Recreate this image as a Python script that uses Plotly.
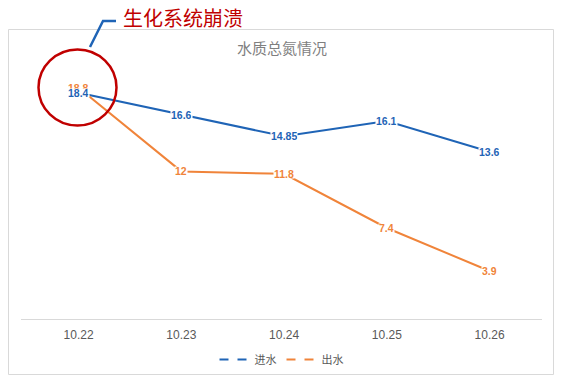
import plotly.graph_objects as go

categories = ["10.22", "10.23", "10.24", "10.25", "10.26"]
inflow = [18.4, 16.6, 14.85, 16.1, 13.6]   # 进水
outflow = [18.8, 12, 11.8, 7.4, 3.9]       # 出水
series_names = ["进水", "出水"]
title_text = "水质总氮情况"
callout_text = "生化系统崩溃"

BLUE = "#1F64B6"
ORANGE = "#F0843A"
RED = "#C00000"

W, H = 564, 387
L, R, T, B = 21, 22, 73, 68
pw, ph = W - L - R, H - T - B


def px(x):
    return (x - L) / pw


def py(y):
    return (H - B - y) / ph


fig = go.Figure()
for vals, col in [(inflow, BLUE), (outflow, ORANGE)]:
    fig.add_trace(go.Scatter(x=categories, y=vals, mode="lines",
                             line=dict(color=col, width=2), showlegend=False,
                             hoverinfo="skip"))
# legend-only entries with dashed symbols
for name, col in zip(series_names, [BLUE, ORANGE]):
    fig.add_trace(go.Scatter(x=[None], y=[None], mode="lines", name=name,
                             line=dict(color=col, width=2, dash="dash")))

annotations = []
for vals, col in [(outflow, ORANGE), (inflow, BLUE)]:
    for i, v in enumerate(vals):
        annotations.append(dict(x=i, y=v, xref="x", yref="y", text=f"<b>{v:g}</b>",
                                showarrow=False, bgcolor="white", borderpad=0,
                                height=8,
                                font=dict(family="Liberation Sans", size=10.5,
                                          color=col)))

annotations.append(dict(x=px(282), y=py(47), xref="paper", yref="paper",
                        xanchor="center", yanchor="middle",
                        text=title_text, showarrow=False,
                        font=dict(family="Noto Sans CJK SC", size=15, color="#7F7F7F")))
annotations.append(dict(x=px(182.5), y=py(17), xref="paper", yref="paper",
                        xanchor="center", yanchor="middle",
                        text=callout_text, showarrow=False,
                        font=dict(family="Noto Sans CJK SC", size=20, color=RED)))

shapes = [
    dict(type="rect", xref="paper", yref="paper", x0=px(8.5), x1=px(553.5),
         y0=py(29.5), y1=py(374.5), line=dict(color="#D9D9D9", width=1),
         layer="below"),
    dict(type="circle", xref="paper", yref="paper", x0=px(38.5), x1=px(116.5),
         y0=py(49.5), y1=py(125.5), line=dict(color=RED, width=2.5)),
    dict(type="path", xref="paper", yref="paper",
         path=f"M {px(90)} {py(47)} L {px(103)} {py(21)} L {px(116)} {py(21)}",
         line=dict(color=BLUE, width=2.5)),
]

fig.update_layout(
    width=W, height=H,
    margin=dict(l=L, r=R, t=T, b=B, autoexpand=False),
    paper_bgcolor="white", plot_bgcolor="white",
    showlegend=True,
    legend=dict(orientation="h", x=0.5, xanchor="center", y=py(359.5),
                yanchor="middle", itemwidth=30, tracegroupgap=0,
                font=dict(family="Noto Sans CJK SC", size=11, color="#595959")),
    annotations=annotations,
    shapes=shapes,
    xaxis=dict(type="category", range=[-0.56, 4.51], showgrid=False,
               showline=True, linecolor="#D9D9D9", linewidth=1, ticks="",
               automargin=False, ticklabelstandoff=5,
               tickfont=dict(family="Liberation Sans", size=12, color="#595959"),
               fixedrange=True),
    yaxis=dict(range=[0, 20], showgrid=False, showticklabels=False,
               zeroline=False, showline=False, fixedrange=True, automargin=False),
)

fig.write_html("out.html", config={"displayModeBar": False},
               post_script="document.body.style.margin='0';document.body.style.overflow='hidden';")
